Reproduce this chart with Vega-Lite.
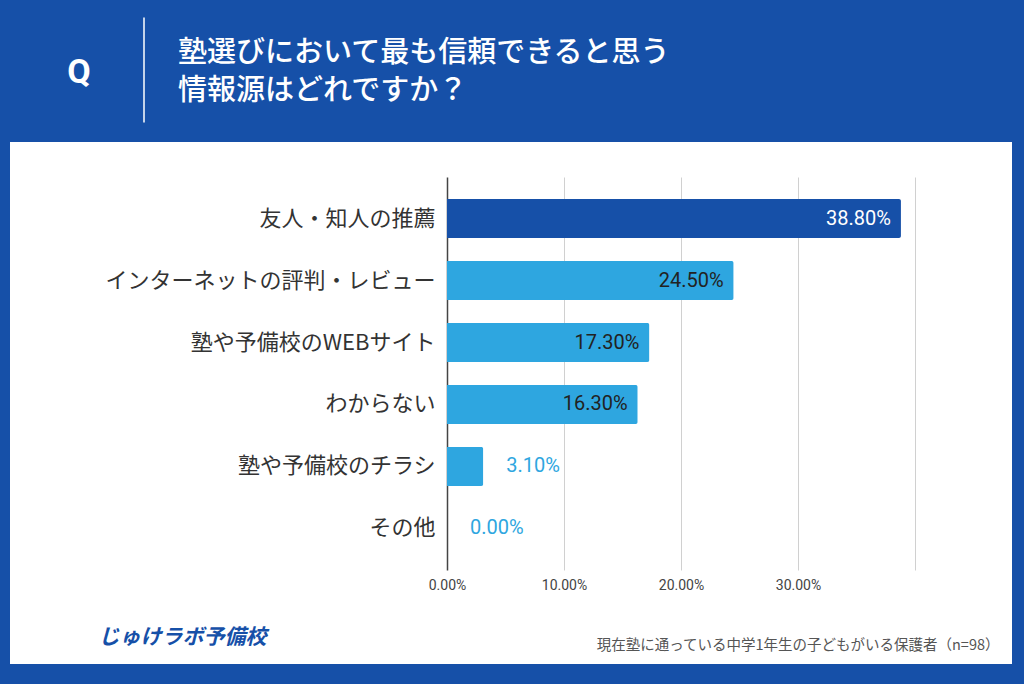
{
  "$schema": "https://vega.github.io/schema/vega-lite/v6.json",
  "width": 1002,
  "height": 522,
  "autosize": "none",
  "padding": {"left": 10, "top": 142, "right": 12, "bottom": 20},
  "background": "#1650A8",
  "config": {"view": {"fill": "white", "stroke": null}, "font": "Noto Sans CJK JP"},
  "title": {
    "text": ["塾選びにおいて最も信頼できると思う", "情報源はどれですか？"],
    "anchor": "start",
    "frame": "group",
    "orient": "top",
    "dx": 168,
    "dy": 91,
    "offset": 40,
    "color": "white",
    "fontSize": 29,
    "fontWeight": 500,
    "font": "Noto Sans CJK JP",
    "lineHeight": 38
  },
  "data": {
    "values": [
      {"label": "友人・知人の推薦", "value": 0.388},
      {"label": "インターネットの評判・レビュー", "value": 0.245},
      {"label": "塾や予備校のWEBサイト", "value": 0.173},
      {"label": "わからない", "value": 0.163},
      {"label": "塾や予備校のチラシ", "value": 0.031},
      {"label": "その他", "value": 0.0}
    ]
  },
  "layer": [
    {
      "encoding": {
        "y": {
          "field": "label",
          "type": "nominal",
          "sort": null,
          "scale": {"range": [35, 428], "paddingInner": 0.37, "paddingOuter": 0.355},
          "axis": {
            "title": "じゅけラボ予備校",
            "titleAngle": 0,
            "titleX": -349,
            "titleY": 495,
            "titleAlign": "left",
            "titleBaseline": "middle",
            "titleFontSize": 21,
            "titleFontWeight": "bold",
            "titleFontStyle": "italic",
            "titleColor": "#1650A8",
            "offset": -437,
            "domain": false,
            "ticks": false,
            "grid": false,
            "labelPadding": 12,
            "labelFontSize": 22,
            "labelColor": "#333333",
            "labelFont": "Noto Sans CJK JP",
            "labelLimit": 400
          }
        },
        "x": {
          "field": "value",
          "type": "quantitative",
          "scale": {"domain": [0, 0.4], "range": [437, 905]},
          "axis": {
            "orient": "top",
            "values": [0, 0.1, 0.2, 0.3, 0.4],
            "labels": false,
            "domain": false,
            "ticks": false,
            "title": null,
            "grid": true,
            "gridColor": {"condition": {"test": "datum.value === 0", "value": "#444444"}, "value": "#d0d0d0"},
            "gridWidth": {"condition": {"test": "datum.value === 0", "value": 1.5}, "value": 1}
          }
        }
      },
      "layer": [
        {
          "mark": {"type": "bar", "cornerRadiusEnd": 2},
          "encoding": {
            "color": {"condition": {"test": "datum.value > 0.3", "value": "#1650A8"}, "value": "#2EA6E0"}
          }
        },
        {
          "transform": [{"filter": "datum.value >= 0.1"}],
          "mark": {"type": "text", "align": "right", "baseline": "middle", "dx": -10, "fontSize": 20, "font": "Roboto"},
          "encoding": {
            "text": {"field": "value", "type": "quantitative", "format": ".2%"},
            "color": {"condition": {"test": "datum.value > 0.3", "value": "#ffffff"}, "value": "#222222"}
          }
        },
        {
          "transform": [{"filter": "datum.value < 0.1"}],
          "mark": {"type": "text", "align": "left", "baseline": "middle", "dx": 23, "fontSize": 20, "font": "Roboto", "color": "#2EA6E0"},
          "encoding": {
            "text": {"field": "value", "type": "quantitative", "format": ".2%"}
          }
        }
      ]
    },
    {
      "mark": {"type": "point", "opacity": 0},
      "encoding": {
        "x": {
          "datum": 0.2,
          "type": "quantitative",
          "scale": {"domain": [0, 0.4], "range": [437, 905]},
          "axis": {
            "orient": "bottom",
            "values": [0, 0.1, 0.2, 0.3],
            "format": ".2%",
            "offset": -94,
            "domain": false,
            "ticks": false,
            "grid": false,
            "labelFlush": false,
            "labelPadding": 8,
            "labelFontSize": 14,
            "labelColor": "#444444",
            "labelFont": "Roboto",
            "title": "現在塾に通っている中学1年生の子どもがいる保護者（n=98）",
            "titleX": 989,
            "titleY": 75,
            "titleAlign": "right",
            "titleBaseline": "middle",
            "titleFontSize": 14.5,
            "titleFontWeight": "normal",
            "titleColor": "#555555",
            "titleFont": "Noto Sans CJK JP"
          }
        },
        "y": {
          "datum": "q",
          "type": "nominal",
          "scale": {"range": [-125, -20]},
          "axis": {
            "orient": "left",
            "offset": -133.5,
            "domain": true,
            "domainColor": "#ffffff",
            "domainWidth": 1.5,
            "ticks": false,
            "labels": false,
            "grid": false,
            "title": "Q",
            "titleAngle": 0,
            "titleX": -65,
            "titleY": -70,
            "titleAlign": "center",
            "titleBaseline": "middle",
            "titleFontSize": 34,
            "titleFontWeight": "bold",
            "titleColor": "#ffffff",
            "titleFont": "Roboto"
          }
        }
      }
    }
  ],
  "resolve": {"scale": {"y": "independent", "x": "independent"}, "axis": {"y": "independent", "x": "independent"}}
}
